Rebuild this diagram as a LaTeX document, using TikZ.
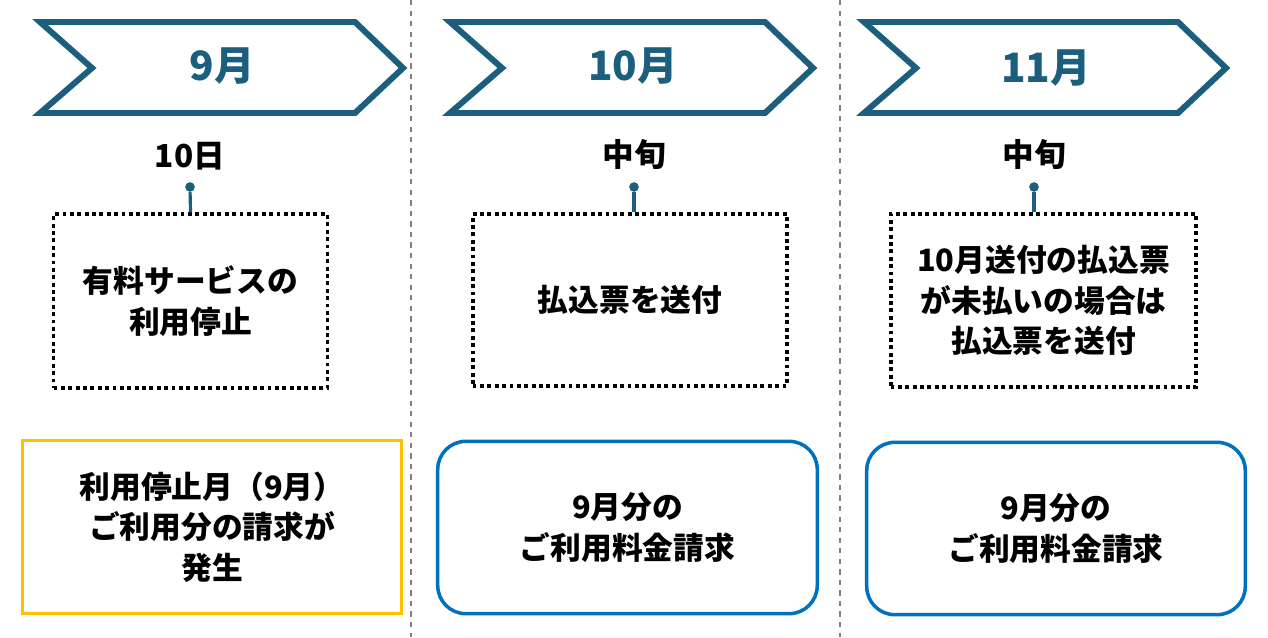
\documentclass[tikz,border=0pt]{standalone}
\usepackage{fontspec}
\setmainfont{Noto Sans CJK JP}
\begin{document}
\begin{tikzpicture}[x=0.02cm,y=-0.02cm,
  chev/.style={draw=teal1,line width=6*0.567pt,line join=miter},
  mon/.style={text=teal1,font=\fontsize{23}{26}\selectfont\bfseries},
  when/.style={font=\fontsize{18}{20}\selectfont\bfseries},
  dotbox/.style={draw,dotted,line width=2.2pt,align=center,font=\fontsize{17.5}{23}\selectfont\bfseries},
  bill/.style={align=center,font=\fontsize{17.5}{23}\selectfont\bfseries},
  pin/.style={fill=teal1,circle,inner sep=0pt,minimum size=5.5pt}]
\definecolor{teal1}{RGB}{27,94,125}
\definecolor{ybox}{RGB}{255,192,0}
\definecolor{bbox}{RGB}{0,112,192}
\useasboundingbox (0,0) rectangle (1268,637);
\draw[gray,dashed,line width=0.8pt] (411,0) -- (411,637);
\draw[gray,dashed,line width=0.8pt] (840,0) -- (840,637);
% chevrons
\draw[chev] (40,22) -- (355,22) -- (403,68) -- (355,113) -- (40,113) -- (92,68) -- cycle;
\draw[chev] (450,22) -- (765,22) -- (813,68) -- (765,113) -- (450,113) -- (502,68) -- cycle;
\draw[chev] (864,22) -- (1178,22) -- (1226,68) -- (1178,113) -- (864,113) -- (916,68) -- cycle;
\node[mon] (m1) at (222,66) {9月};
\node[mon] (m2) at (633,66) {10月};
\node[mon] (m3) at (1046,68) {11月};
% column 1
\node[when] (w1) at (190,156) {10日};
\node[pin] (p1) at (190,187) {};
\node[dotbox,minimum width=275*0.567pt,minimum height=174*0.567pt] (b1) at (190.5,301) {有料サービスの\\利用停止};
\draw[teal1,line width=1.8pt] (p1) -- (b1.north);
% column 2
\node[when] (w2) at (634,155) {中旬};
\node[pin] (p2) at (634,187) {};
\node[dotbox,minimum width=316*0.567pt,minimum height=172*0.567pt] (b2) at (630,300) {払込票を送付};
\draw[teal1,line width=1.8pt] (p2) -- (b2.north-|p2);
% column 3
\node[when] (w3) at (1034,155) {中旬};
\node[pin] (p3) at (1034,187) {};
\node[dotbox,minimum width=307*0.567pt,minimum height=173*0.567pt] (b3) at (1043.5,300.5) {10月送付の払込票\\が未払いの場合は\\払込票を送付};
\draw[teal1,line width=1.8pt] (p3) -- (b3.north-|p3);
% bottom
\node[bill,draw=ybox,line width=2pt,minimum width=380*0.567pt,minimum height=174*0.567pt] (c1) at (212,527) {利用停止月（9月）\\ご利用分の請求が\\発生};
\node[bill,draw=bbox,line width=2pt,rounded corners=16pt,minimum width=381*0.567pt,minimum height=173*0.567pt] (c2) at (627.5,527.5) {9月分の\\ご利用料金請求};
\node[bill,draw=bbox,line width=2pt,rounded corners=16pt,minimum width=380*0.567pt,minimum height=173*0.567pt] (c3) at (1056,528.5) {9月分の\\ご利用料金請求};
\end{tikzpicture}
\end{document}
